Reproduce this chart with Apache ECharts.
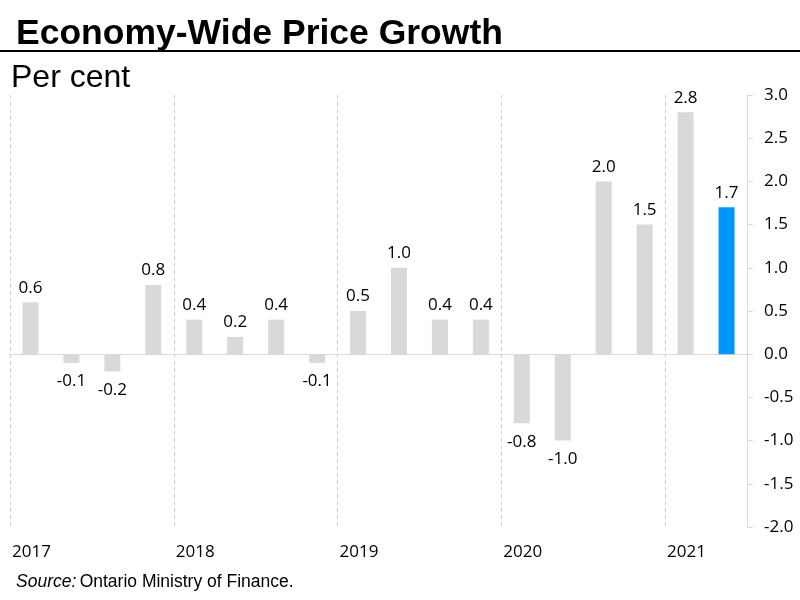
<!DOCTYPE html>
<html>
<head>
<meta charset="utf-8">
<script src="https://cdn.jsdelivr.net/npm/echarts@6/dist/echarts.min.js"></script>
<style>html,body{margin:0;padding:0;background:#fff}#c{width:800px;height:600px}</style>
</head>
<body>
<div id="c"></div>
<script>
var quarters = ['2017Q1','2017Q2','2017Q3','2017Q4','2018Q1','2018Q2','2018Q3','2018Q4','2019Q1','2019Q2','2019Q3','2019Q4','2020Q1','2020Q2','2020Q3','2020Q4','2021Q1','2021Q2'];
var growth = [0.6, -0.1, -0.2, 0.8, 0.4, 0.2, 0.4, -0.1, 0.5, 1.0, 0.4, 0.4, -0.8, -1.0, 2.0, 1.5, 2.8, 1.7];
var years = ['2017','2018','2019','2020','2021'];
var yTicks = { min: -2, max: 3, interval: 0.5 };

var chart = echarts.init(document.getElementById('c'), null, { renderer: 'canvas' });
var numFont = '"Open Sans", sans-serif';
var barData = growth.map(function (v, i) {
  return {
    value: v,
    itemStyle: { color: i === growth.length - 1 ? '#0096ff' : '#d9d9d9' },
    label: v < 0 ? { position: 'bottom', distance: 10 } : { position: 'top', distance: 6 }
  };
});

chart.setOption({
  animation: false,
  backgroundColor: '#fff',
  title: [
    { text: 'Economy-Wide Price Growth', left: 11, top: 11,
      textStyle: { fontFamily: '"Liberation Sans", Arial, sans-serif', fontWeight: 'bold', fontSize: 35.5, color: '#000' } },
    { text: 'Per cent', left: 6, top: 57,
      textStyle: { fontFamily: '"Liberation Sans", Arial, sans-serif', fontWeight: 'normal', fontSize: 32, color: '#000' } }
  ],
  graphic: [
    { type: 'line', shape: { x1: 0, y1: 51, x2: 800, y2: 51 }, style: { stroke: '#000', lineWidth: 2 } },
    { type: 'text', left: 16, top: 573,
      style: { rich: { i: { fontStyle: 'italic', fontFamily: '"Liberation Sans", Arial, sans-serif', fontSize: 17.5, fill: '#000' },
                       n: { fontFamily: '"Liberation Sans", Arial, sans-serif', fontSize: 17.5, fill: '#000' } },
               text: '{i|Source:} {n|Ontario Ministry of Finance.}' } }
  ],
  grid: { left: 10, right: 53, top: 95, bottom: 73, containLabel: false },
  xAxis: [
    { type: 'category', data: quarters,
      axisLine: { show: true, onZero: true, lineStyle: { color: '#d9d9d9', width: 1 } },
      axisTick: { show: false }, axisLabel: { show: false }, splitLine: { show: false } },
    { type: 'value', min: 0, max: quarters.length, interval: 4, position: 'bottom',
      axisLine: { show: false }, axisTick: { show: false },
      splitLine: { show: true, lineStyle: { color: '#d0d0d0', type: [4, 3], width: 1 } },
      axisLabel: { show: true, showMaxLabel: false, align: 'left', margin: 17, padding: [0, 0, 0, 2],
        fontFamily: numFont, fontSize: 17, color: '#000',
        formatter: function (v) { var k = Math.round(v / 4); return (v % 4 === 0 && years[k]) ? years[k] : ''; } } }
  ],
  yAxis: {
    type: 'value', position: 'right', min: yTicks.min, max: yTicks.max, interval: yTicks.interval,
    axisLine: { show: true, onZero: false, lineStyle: { color: '#d9d9d9' } },
    axisTick: { show: true, inside: false, length: 6, lineStyle: { color: '#d9d9d9' } },
    splitLine: { show: false },
    axisLabel: { margin: 17, fontFamily: numFont, fontSize: 17, color: '#000',
      formatter: function (v) { return v.toFixed(1); } }
  },
  series: [{
    type: 'bar', xAxisIndex: 0, data: barData, barWidth: 16,
    label: { show: true, fontFamily: numFont, fontSize: 17, color: '#000',
      formatter: function (p) { return p.value.toFixed(1); } }
  }]
});
</script>
</body>
</html>
